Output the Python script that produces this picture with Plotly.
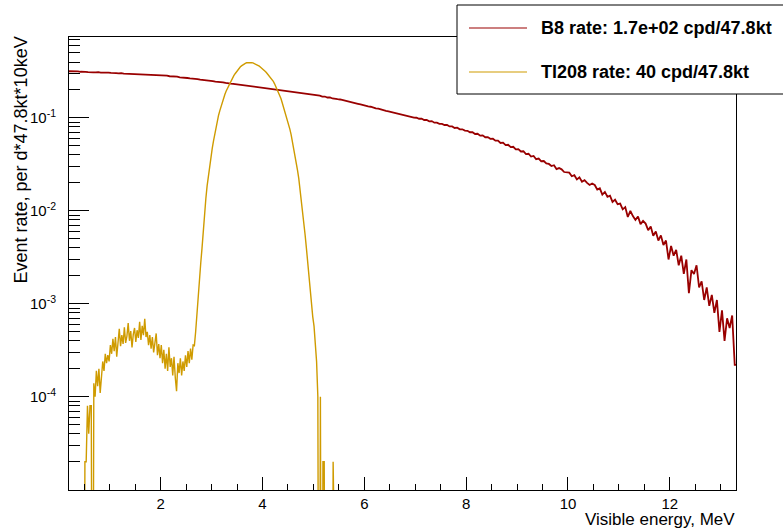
import numpy as np
import plotly.graph_objects as go

# ---------------- data ----------------
# B8 spectrum: bins of 0.05 MeV starting at 0.2 MeV (event rate per d*47.8kt*10keV)
b8_start, b8_width = 0.2, 0.05
b8_vals = [
    0.318, 0.320, 0.316, 0.317, 0.314, 0.315, 0.313, 0.311, 0.313, 0.310, 0.309, 0.311, 0.307, 0.308, 0.306, 0.307,
    0.305, 0.306, 0.303, 0.302, 0.304, 0.300, 0.299, 0.301, 0.297, 0.298, 0.296, 0.294, 0.296, 0.293, 0.292, 0.294, 0.290, 0.291, 0.289, 0.290,
    0.288, 0.285, 0.285, 0.281, 0.281, 0.277, 0.278, 0.273, 0.273, 0.270,
    0.269, 0.266, 0.266, 0.262, 0.262, 0.258, 0.257, 0.255, 0.253, 0.250,
    0.249, 0.246, 0.246, 0.242, 0.242, 0.238, 0.238, 0.234, 0.233, 0.231,
    0.229, 0.226, 0.226, 0.222, 0.222, 0.219, 0.218, 0.214, 0.214, 0.211,
    0.210, 0.209, 0.206, 0.206, 0.203, 0.203, 0.200, 0.199, 0.198, 0.195,
    0.194, 0.192, 0.191, 0.188, 0.188, 0.185, 0.184, 0.181, 0.181, 0.178,
    0.177, 0.174, 0.174, 0.170, 0.170, 0.166, 0.166, 0.162, 0.162, 0.159,
    0.158, 0.156, 0.153, 0.152, 0.148, 0.147, 0.144, 0.142, 0.140, 0.137,
    0.1355, 0.133, 0.132, 0.129, 0.127, 0.126, 0.123, 0.122, 0.119, 0.118,
    0.116, 0.115, 0.112, 0.112, 0.109, 0.108, 0.106, 0.104, 0.103, 0.101,
    0.1005, 0.0980, 0.0985, 0.0950, 0.0950, 0.0920, 0.0925, 0.0890, 0.0890, 0.0865,
    0.0865, 0.0840, 0.0840, 0.0810, 0.0810, 0.0780, 0.0785, 0.0755, 0.0755, 0.0730,
    0.0728, 0.0702, 0.0703, 0.0672, 0.0676, 0.0645, 0.0650, 0.0620, 0.0622, 0.0596,
    0.0598, 0.0570, 0.0570, 0.0538, 0.0542, 0.0510, 0.0515, 0.0485, 0.0490, 0.0460,
    0.0462, 0.0436, 0.0438, 0.0408, 0.0412, 0.0384, 0.0390, 0.0360, 0.0366, 0.0342,
    0.0344, 0.0325, 0.0320, 0.0304, 0.0310, 0.0282, 0.0289, 0.0280, 0.0262, 0.0262,
    0.0258, 0.0236, 0.0242, 0.0218, 0.0230, 0.0206, 0.0214, 0.0200, 0.0190, 0.0197,
    0.0190, 0.0170, 0.0175, 0.0150, 0.0160, 0.0142, 0.0146, 0.0125, 0.0132, 0.0118,
    0.0120, 0.0104, 0.0110, 0.0086, 0.0100, 0.0088, 0.0080, 0.0087, 0.0072, 0.0078,
    0.00730, 0.00620, 0.00680, 0.00540, 0.00600, 0.00480, 0.00545, 0.00430, 0.00480, 0.00300,
    0.00420, 0.00330, 0.00380, 0.00260, 0.00330, 0.00210, 0.00300, 0.00130, 0.00230, 0.00210,
    0.00260, 0.00150, 0.00175, 0.00110, 0.00150, 0.00095, 0.00125, 0.00080, 0.00110, 0.00050,
    0.00085, 0.00040, 0.00070, 0.00055, 0.00075, 0.00022,
]

# Tl208 spectrum: bins of 0.025 MeV starting at 0.45 MeV
tl_start, tl_width = 0.45, 0.025
tl_vals = [
    # 0.450 - 0.975
    0.0, 0.0, 2e-5, 2e-5, 8e-5, 4e-5, 8e-5, 8e-5, 0.0,
    1.4e-4, 1.0e-4, 1.9e-4, 1.3e-4, 2.0e-4, 1.1e-4, 1.6e-4, 2.4e-4,
    1.9e-4, 2.9e-4, 2.3e-4, 2.8e-4, 2.4e-4,
    # 1.000 - 1.975
    3.6e-4, 2.9e-4, 4.2e-4, 3.1e-4, 4.4e-4, 2.7e-4, 3.9e-4, 5.4e-4,
    3.5e-4, 4.6e-4, 3.7e-4, 5.6e-4, 3.8e-4, 4.5e-4, 6.2e-4, 4.0e-4,
    5.1e-4, 3.4e-4, 4.7e-4, 5.5e-4, 3.9e-4, 5.2e-4, 4.3e-4, 6.4e-4,
    4.1e-4, 5.8e-4, 4.6e-4, 6.9e-4, 4.4e-4, 5.0e-4, 3.6e-4, 4.6e-4,
    3.3e-4, 4.4e-4, 3.0e-4, 3.9e-4, 4.8e-4, 2.8e-4, 3.7e-4, 2.6e-4,
    # 2.000 - 2.625
    3.6e-4, 2.3e-4, 3.2e-4, 2.0e-4, 2.9e-4, 1.9e-4, 3.4e-4, 2.1e-4,
    2.6e-4, 1.7e-4, 2.7e-4, 1.6e-4, 1.15e-4, 2.3e-4, 1.8e-4, 2.6e-4,
    1.7e-4, 2.4e-4, 1.9e-4, 2.8e-4, 2.1e-4, 3.1e-4, 2.3e-4, 3.3e-4,
    2.5e-4, 3.6e-4,
    # 2.650 - 5.075 (peak)
    3.55e-4, 5.01e-4, 8.13e-4, 1.29e-3, 2.04e-3, 2.75e-3, 3.98e-3, 6.46e-3, 9.55e-3, 1.35e-2,
    1.86e-2, 2.40e-2, 3.09e-2, 3.89e-2, 4.68e-2, 5.62e-2, 6.76e-2, 8.13e-2, 9.55e-2, 0.107,
    0.120, 0.135, 0.150, 0.164, 0.180, 0.195, 0.209, 0.224, 0.240, 0.254,
    0.269, 0.285, 0.299, 0.313, 0.327, 0.340, 0.353, 0.363, 0.373, 0.381,
    0.387, 0.392, 0.394, 0.395, 0.395, 0.394, 0.391, 0.386, 0.381, 0.375,
    0.368, 0.361, 0.352, 0.344, 0.334, 0.324, 0.314, 0.303, 0.292, 0.281,
    0.272, 0.263, 0.248, 0.233, 0.218, 0.203, 0.189, 0.176, 0.162, 0.146,
    0.132, 0.119, 0.107, 0.0966, 0.0861, 0.0759, 0.0661, 0.0562, 0.0479, 0.0407,
    0.0339, 0.0275, 0.0224, 0.0174, 0.0135, 0.0102, 0.00759, 0.00550, 0.00398, 0.00282,
    0.00191, 0.00132, 0.000955, 0.000724, 0.000575, 0.000398, 0.000240, 0.000100,
    # 5.100 - 5.475 (tail)
    0.0, 1.0e-4, 0.0, 2e-5, 2e-5, 0.0, 0.0, 0.0, 0.0, 0.0, 0.0, 2e-5, 0.0, 0.0, 0.0, 0.0,
]

b8_label = "B8 rate: 1.7e+02 cpd/47.8kt"
tl_label = "Tl208 rate: 40 cpd/47.8kt"
x_title = "Visible energy, MeV"
y_title = "Event rate, per d*47.8kt*10keV"
x_ticks = [2, 4, 6, 8, 10, 12]
y_ticks = [1e-4, 1e-3, 1e-2, 1e-1]
y_ticktext = ["10<sup>-4</sup>", "10<sup>-3</sup>", "10<sup>-2</sup>", "10<sup>-1</sup>"]

# ---------------- styling ----------------
W, H = 783, 530
L, R, T, B = 69, 736, 37, 490
B8_COLOR = "#990000"
TL_COLOR = "#cf9b00"
FONT = "Liberation Sans, Arial, Helvetica, sans-serif"
ZERO_FLOOR = 1e-9  # empty bins drop below the axis (as ROOT draws them)


def hist_centers(start, width, vals):
    n = len(vals)
    v = np.array(vals, dtype=float)
    v = np.where(v > 0, v, ZERO_FLOOR)
    centers = start + width * (np.arange(n) + 0.5)
    xs = [start] + list(centers) + [start + width * n]
    ys = [v[0]] + list(v) + [v[-1]]
    return xs, ys


b8_x, b8_y = hist_centers(b8_start, b8_width, b8_vals)
tl_x, tl_y = hist_centers(tl_start, tl_width, tl_vals)

fig = go.Figure()
fig.add_trace(go.Scatter(x=b8_x, y=b8_y, mode="lines", line=dict(color=B8_COLOR, width=1.8),
                         name=b8_label, showlegend=False))
fig.add_trace(go.Scatter(x=tl_x, y=tl_y, mode="lines", line=dict(color=TL_COLOR, width=1.4),
                         name=tl_label, showlegend=False))


def px2x(p):
    return (p - L) / (R - L)


def py2y(p):
    return (B - p) / (B - T)


shapes = [
    dict(type="rect", xref="paper", yref="paper", x0=px2x(457), x1=px2x(795), y0=py2y(94), y1=py2y(5),
         line=dict(color="black", width=1), fillcolor="white", layer="above"),
    dict(type="line", xref="paper", yref="paper", x0=px2x(469), x1=px2x(527), y0=py2y(28), y1=py2y(28),
         line=dict(color=B8_COLOR, width=1.2), layer="above"),
    dict(type="line", xref="paper", yref="paper", x0=px2x(469), x1=px2x(527), y0=py2y(72), y1=py2y(72),
         line=dict(color=TL_COLOR, width=1.2), layer="above"),
]

annotations = [
    dict(text="<b>%s</b>" % b8_label, xref="paper", yref="paper", x=px2x(539), y=py2y(28),
         xanchor="left", yanchor="middle", showarrow=False, font=dict(size=18, family=FONT, color="black")),
    dict(text="<b>%s</b>" % tl_label, xref="paper", yref="paper", x=px2x(539), y=py2y(72),
         xanchor="left", yanchor="middle", showarrow=False, font=dict(size=18, family=FONT, color="black")),
    dict(text=x_title, xref="paper", yref="paper", x=1, y=py2y(530), xanchor="right", yanchor="bottom",
         showarrow=False, borderpad=0, font=dict(size=17, family=FONT, color="black")),
    dict(text=y_title, xref="paper", yref="paper", x=px2x(20), y=py2y(35), xanchor="center", yanchor="top",
         textangle=-90, showarrow=False, font=dict(size=18, family=FONT, color="black")),
]

fig.update_layout(
    width=W, height=H,
    margin=dict(l=L, r=W - R, t=T, b=H - B, pad=0),
    paper_bgcolor="white", plot_bgcolor="white",
    font=dict(family=FONT, size=15, color="black"),
    showlegend=False,
    shapes=shapes, annotations=annotations,
    xaxis=dict(range=[0.2, 13.3], tickmode="array", tickvals=x_ticks, ticks="inside", ticklen=13,
               tickwidth=1, tickcolor="black", showline=True, linecolor="black", linewidth=1, mirror=True,
               showgrid=False, zeroline=False, tickfont=dict(size=15), ticklabelstandoff=0,
               minor=dict(ticks="inside", ticklen=6, tickcolor="black", dtick=0.5, tick0=0, showgrid=False)),
    yaxis=dict(type="log", range=[-5.003, -0.129], tickmode="array", tickvals=y_ticks, ticktext=y_ticktext,
               ticks="inside", ticklen=20, tickwidth=1, tickcolor="black", showline=True, linecolor="black",
               linewidth=1, mirror=True, showgrid=False, zeroline=False, tickfont=dict(size=15),
               ticklabelstandoff=9,
               minor=dict(ticks="inside", ticklen=11, tickcolor="black", dtick="D1", showgrid=False)),
)

fig.write_html("out.html")
